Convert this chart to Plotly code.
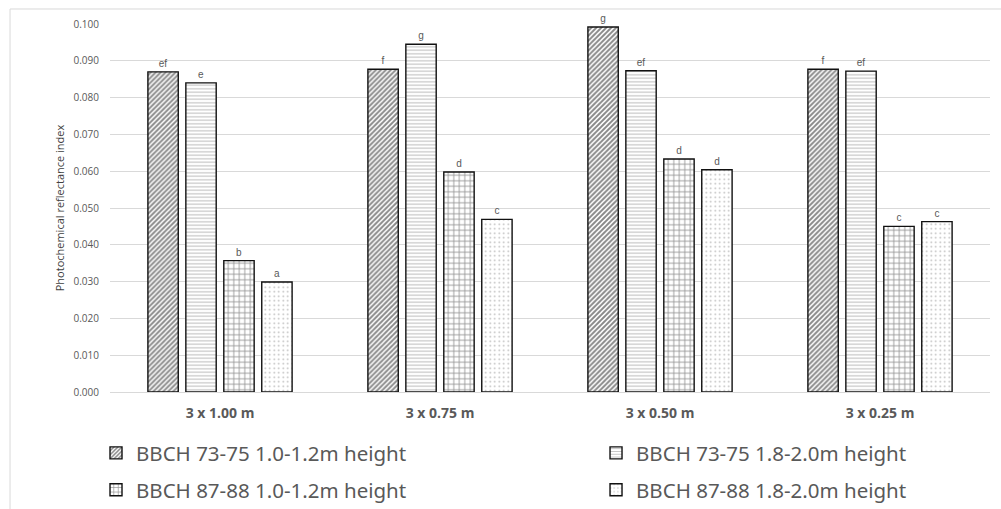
import plotly.graph_objects as go

categories = ["3 x 1.00 m", "3 x 0.75 m", "3 x 0.50 m", "3 x 0.25 m"]
series_names = [
    "BBCH 73-75 1.0-1.2m height",
    "BBCH 73-75 1.8-2.0m height",
    "BBCH 87-88 1.0-1.2m height",
    "BBCH 87-88 1.8-2.0m height",
]
s1 = [0.087, 0.0877, 0.0992, 0.0877]
s2 = [0.084, 0.0945, 0.0873, 0.0872]
s3 = [0.0357, 0.0598, 0.0633, 0.0450]
s4 = [0.0299, 0.0469, 0.0604, 0.0463]
l1 = ["ef", "f", "g", "f"]
l2 = ["e", "g", "ef", "ef"]
l3 = ["b", "d", "d", "c"]
l4 = ["a", "c", "d", "c"]
yticks = [0.0, 0.01, 0.02, 0.03, 0.04, 0.05, 0.06, 0.07, 0.08, 0.09, 0.10]

patterns = [
    dict(shape="/", size=3.5, solidity=0.55, fgcolor="#111111", bgcolor="white"),
    dict(shape="-", size=3.5, solidity=0.3, fgcolor="#7a7a7a", bgcolor="white"),
    dict(shape="+", size=5.5, solidity=0.28, fgcolor="#222222", bgcolor="white"),
    dict(shape=".", size=4.5, solidity=0.12, fgcolor="#777777", bgcolor="white"),
]
legend_ids = ["legend", "legend2", "legend3", "legend4"]

fig = go.Figure()
for name, vals, labs, pat, lg in zip(series_names, [s1, s2, s3, s4], [l1, l2, l3, l4], patterns, legend_ids):
    fig.add_trace(go.Bar(
        name=name, x=categories, y=vals, text=labs,
        textposition="outside", cliponaxis=False, legend=lg,
        textfont=dict(size=10, color="#595959", family="Liberation Sans"),
        marker=dict(color="white", pattern=pat, line=dict(color="#111111", width=1.4)),
    ))

leg_common = dict(orientation="h", xanchor="left", yanchor="middle",
                  font=dict(size=20.5, color="#595959", family="Noto Sans"),
                  itemwidth=30, bgcolor="rgba(0,0,0,0)")

fig.update_layout(
    width=1001, height=509,
    margin=dict(l=110, r=11, t=24, b=117, autoexpand=False),
    paper_bgcolor="white", plot_bgcolor="white",
    barmode="group", bargap=0.31, bargroupgap=0.2,
    font=dict(family="Open Sans", color="#595959"),
    xaxis=dict(showgrid=False, showline=True, linecolor="#d9d9d9", linewidth=1,
               tickfont=dict(size=14, color="#595959", family="Open Sans"),
               ticks="", ticklabelstandoff=8),
    yaxis=dict(range=[0, 0.1], tickvals=yticks, tickformat=".3f",
               showgrid=True, gridcolor="#d9d9d9", gridwidth=1, zeroline=False,
               tickfont=dict(size=10, color="#595959", family="Open Sans"), ticks="",
               ticklabelstandoff=10,
               title=dict(text="Photochemical reflectance index",
                          font=dict(size=11, color="#404040", family="Open Sans"), standoff=6)),
    legend=dict(x=-0.0159, y=-0.1658, **leg_common),
    legend2=dict(x=0.5523, y=-0.1658, **leg_common),
    legend3=dict(x=-0.0159, y=-0.2663, **leg_common),
    legend4=dict(x=0.5523, y=-0.2663, **leg_common),
    showlegend=True,
)
fig.update_xaxes(tickprefix="<b>", ticksuffix="</b>")
fig.add_shape(type="rect", xref="paper", yref="paper", x0=-0.1136, x1=1.02, y0=-0.5,
              y1=1.0408, line=dict(color="#d9d9d9", width=1), fillcolor="rgba(0,0,0,0)",
              layer="below")
fig.write_html("out.html", config={"displayModeBar": False},
               post_script="document.body.style.margin='0';")
